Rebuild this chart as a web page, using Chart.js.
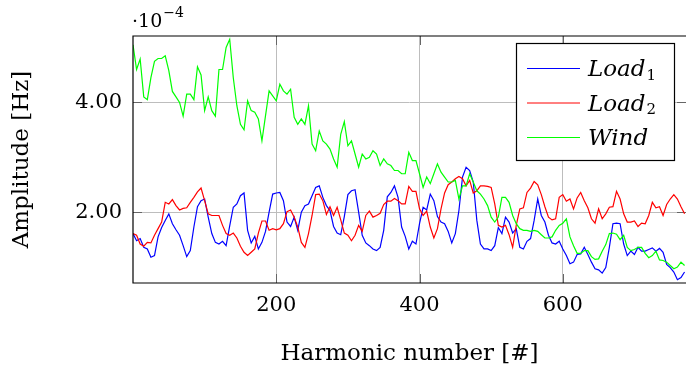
<!DOCTYPE html>
<html><head><meta charset="utf-8">
<script src="https://cdn.jsdelivr.net/npm/chart.js@4.4.1/dist/chart.umd.min.js"></script>
<style>html,body{margin:0;padding:0;background:#fff;}#wrap{width:686px;height:371px;}</style>
</head><body><div id="wrap"><canvas id="c" width="686" height="371"></canvas></div>
<script>
const harmonics = [0,5,10,15,20,25,30,35,40,45,50,55,60,65,70,75,80,85,90,95,100,105,110,115,120,125,130,135,
140,145,150,155,160,165,170,175,180,185,190,195,200,205,210,215,220,225,230,235,240,245,250,255,260,265,270,
275,280,285,290,295,300,305,310,315,320,325,330,335,340,345,350,355,360,365,370,375,380,385,390,395,400,405,
410,415,420,425,430,435,440,445,450,455,460,465,470,475,480,485,490,495,500,505,510,515,520,525,530,535,540,
545,550,555,560,565,570,575,580,585,590,595,600,605,610,615,620,625,630,635,640,645,650,655,660,665,670,675,680,
685,690,695,700,705,710,715,720,725,730,735,740,745,750,755,760,765,770];

const load1 = [1.61,1.48,1.52,1.36,1.33,1.18,1.21,1.55,1.72,1.85,1.97,1.79,1.68,1.58,1.39,1.19,1.30,1.73,2.10,2.21,2.24,1.91,1.61,1.45,1.42,1.47,1.39,1.75,
2.09,2.15,2.30,2.35,1.67,1.44,1.56,1.33,1.45,1.65,2.00,2.33,2.35,2.36,2.21,1.82,1.74,1.91,1.67,2.00,2.12,2.15,2.30,2.45,2.48,2.27,2.12,
2.03,1.74,1.62,1.59,1.92,2.32,2.39,2.41,2.00,1.58,1.44,1.39,1.33,1.30,1.36,1.67,2.28,2.36,2.48,2.27,1.73,1.56,1.33,1.47,1.42,1.79,2.09,
2.04,2.33,2.21,1.92,1.82,1.79,1.65,1.44,1.61,2.03,2.64,2.82,2.76,2.55,1.85,1.42,1.33,1.33,1.30,1.39,1.72,1.61,1.91,1.82,1.62,1.70,1.36,
1.33,1.47,1.52,1.85,2.24,1.94,1.82,1.58,1.44,1.42,1.47,1.33,1.21,1.06,1.09,1.23,1.24,1.36,1.23,1.09,0.97,0.95,0.89,0.99,1.36,1.79,1.80,1.79,
1.42,1.21,1.29,1.23,1.36,1.29,1.29,1.32,1.35,1.29,1.34,1.27,1.05,0.99,0.91,0.77,0.81,0.91];

const load2 = [1.61,1.58,1.42,1.38,1.45,1.44,1.58,1.70,1.82,2.18,2.15,2.23,2.12,2.04,2.07,2.08,2.18,2.27,2.37,2.44,2.21,1.97,1.94,1.94,1.94,1.76,1.61,1.58,
1.62,1.53,1.38,1.27,1.21,1.27,1.33,1.62,1.84,1.84,1.67,1.70,1.68,1.70,1.79,2.01,2.04,1.91,1.73,1.45,1.36,1.61,1.94,2.32,2.33,2.21,1.96,
2.10,1.94,2.09,1.86,1.62,1.58,1.48,1.58,1.76,1.65,1.94,2.02,1.91,1.94,1.98,2.14,2.20,2.20,2.25,2.21,2.15,2.15,2.47,2.38,2.38,2.06,1.94,
2.02,1.73,1.53,1.70,2.06,2.35,2.50,2.55,2.61,2.65,2.61,2.48,2.58,2.35,2.39,2.48,2.48,2.47,2.45,2.15,1.76,1.73,1.76,1.59,1.36,1.76,2.06,
2.08,2.36,2.44,2.56,2.50,2.32,2.10,1.91,1.86,1.88,2.27,2.32,2.20,2.24,2.06,2.26,2.36,2.21,2.08,1.88,1.80,2.06,1.88,1.97,2.09,2.10,2.38,2.24,
1.97,1.82,1.82,1.84,1.74,1.80,1.79,1.94,2.18,2.08,2.10,1.94,2.14,2.24,2.32,2.24,2.10,1.97];

const wind = [5.05,4.60,4.79,4.10,4.05,4.45,4.75,4.80,4.80,4.85,4.58,4.20,4.10,4.00,3.75,4.15,4.15,4.05,4.65,4.50,3.85,4.10,3.85,3.75,4.60,4.60,5.00,5.15,
4.45,3.94,3.60,3.50,4.03,3.85,3.82,3.70,3.30,3.76,4.21,4.12,4.03,4.33,4.21,4.15,4.24,3.73,3.60,3.70,3.60,3.94,3.24,3.12,3.48,3.30,3.24,
3.15,2.97,2.82,3.42,3.65,3.21,3.30,3.06,2.82,3.06,2.97,3.00,3.12,3.06,2.85,2.97,2.88,2.85,2.76,2.76,2.70,2.70,3.09,2.94,2.94,2.70,2.45,
2.64,2.52,2.70,2.88,2.73,2.64,2.55,2.55,2.58,2.24,2.48,2.48,2.70,2.55,2.39,2.33,2.24,2.12,1.91,1.82,1.91,2.27,2.27,2.18,1.94,1.79,1.70,
1.67,1.67,1.65,1.67,1.65,1.59,1.53,1.53,1.55,1.67,1.76,1.80,1.88,1.55,1.39,1.25,1.25,1.30,1.30,1.19,1.14,1.15,1.29,1.41,1.61,1.62,1.60,1.50,
1.58,1.36,1.30,1.32,1.36,1.36,1.25,1.17,1.21,1.29,1.13,1.12,1.09,1.03,0.97,1.00,1.09,1.03];

const xTicks = [200, 400, 600];
const yTicks = [2, 4];
const seriesNames = ['Load1', 'Load2', 'Wind'];
const legendMain = ['Load', 'Load', 'Wind'];
const legendSub = ['1', '2', ''];
const seriesColors = ['#0000ff', '#ff0000', '#00ff00'];

const SERIF = 'DejaVu Serif';

const framePlugin = {
  id: 'frame',
  beforeDatasetsDraw(chart) {
    const {ctx, chartArea: a, scales: {x, y}} = chart;
    ctx.save();
    ctx.strokeStyle = '#666';
    ctx.lineWidth = 1;
    ctx.beginPath();
    xTicks.forEach(v => {
      const px = Math.round(x.getPixelForValue(v)) + 0.5;
      ctx.moveTo(px, a.bottom); ctx.lineTo(px, a.bottom - 9);
      ctx.moveTo(px, a.top); ctx.lineTo(px, a.top + 9);
    });
    yTicks.forEach(v => {
      const py = Math.round(y.getPixelForValue(v)) + 0.5;
      ctx.moveTo(a.left, py); ctx.lineTo(a.left + 9, py);
      ctx.moveTo(a.right, py); ctx.lineTo(a.right - 9, py);
    });
    ctx.stroke();
    ctx.restore();
  },
  afterDraw(chart) {
    const {ctx, chartArea: a} = chart;
    ctx.save();
    ctx.strokeStyle = '#000';
    ctx.lineWidth = 1.2;
    ctx.beginPath();
    ctx.moveTo(a.right + 5, a.top);
    ctx.lineTo(a.left, a.top);
    ctx.lineTo(a.left, a.bottom);
    ctx.lineTo(a.right + 5, a.bottom);
    ctx.stroke();
    ctx.fillStyle = '#000';
    ctx.textBaseline = 'alphabetic';
    ctx.textAlign = 'left';
    ctx.font = '19px "' + SERIF + '"';
    const base = '\u00B710';
    ctx.fillText(base, a.left - 1, 27);
    const bw = ctx.measureText(base).width;
    ctx.font = '14px "' + SERIF + '"';
    ctx.fillText('\u22124', a.left - 1 + bw + 1, 17);
    const bx = 516, by = 43, bw2 = 159, bh = 118;
    ctx.fillStyle = '#fff';
    ctx.fillRect(bx, by, bw2, bh);
    ctx.strokeStyle = '#000';
    ctx.lineWidth = 1.2;
    ctx.strokeRect(bx + 0.5, by + 0.5, bw2 - 1, bh - 1);
    const rows = [68.5, 103, 137.5];
    chart.data.datasets.forEach((ds, i) => {
      const ry = rows[i];
      ctx.strokeStyle = ds.borderColor;
      ctx.lineWidth = 1;
      ctx.beginPath();
      ctx.moveTo(527, ry); ctx.lineTo(580, ry);
      ctx.stroke();
      ctx.fillStyle = '#000';
      ctx.font = 'italic 23px "' + SERIF + '"';
      ctx.fillText(legendMain[i], 588, ry + 7.5);
      const mw = ctx.measureText(legendMain[i]).width;
      if (legendSub[i]) {
        ctx.font = '15px "' + SERIF + '"';
        ctx.fillText(legendSub[i], 588 + mw + 1, ry + 11);
      }
    });
    ctx.restore();
  }
};

const mk = (vals) => harmonics.map((h, i) => ({x: h, y: vals[i]}));

new Chart(document.getElementById('c'), {
  type: 'line',
  data: {
    datasets: [
      {label: seriesNames[0], data: mk(load1), borderColor: seriesColors[0], borderWidth: 1.2, pointRadius: 0, tension: 0, fill: false, order: 3},
      {label: seriesNames[1], data: mk(load2), borderColor: seriesColors[1], borderWidth: 1.2, pointRadius: 0, tension: 0, fill: false, order: 2},
      {label: seriesNames[2], data: mk(wind), borderColor: seriesColors[2], borderWidth: 1.2, pointRadius: 0, tension: 0, fill: false, order: 1}
    ]
  },
  options: {
    responsive: false,
    animation: false,
    devicePixelRatio: 1,
    layout: {padding: {top: 36, right: 0, left: 0, bottom: 0}},
    plugins: {legend: {display: false}, tooltip: {enabled: false}},
    scales: {
      x: {
        type: 'linear', min: 0, max: 772,
        afterFit(s) { s.height = 88; },
        afterBuildTicks(s) { s.ticks = xTicks.map(v => ({value: v})); },
        grid: {color: '#bdbdbd', lineWidth: 1, drawTicks: false},
        border: {display: false},
        ticks: {padding: 10, color: '#000', font: {family: SERIF, size: 21}, maxRotation: 0, autoSkip: false, callback: v => String(v)},
        title: {display: true, text: 'Harmonic number [#]', color: '#000', font: {family: SERIF, size: 23}, padding: {top: 0, bottom: 3}}
      },
      y: {
        type: 'linear', min: 0.71, max: 5.21,
        afterFit(s) { s.width = 133; },
        afterBuildTicks(s) { s.ticks = yTicks.map(v => ({value: v})); },
        grid: {color: '#bdbdbd', lineWidth: 1, drawTicks: false},
        border: {display: false},
        ticks: {padding: 11, color: '#000', font: {family: SERIF, size: 21}, callback: v => Number(v).toFixed(2)},
        title: {display: true, text: 'Amplitude [Hz]', color: '#000', font: {family: SERIF, size: 23}, padding: {top: 8, bottom: 0}}
      }
    }
  },
  plugins: [framePlugin]
});
</script></body></html>
